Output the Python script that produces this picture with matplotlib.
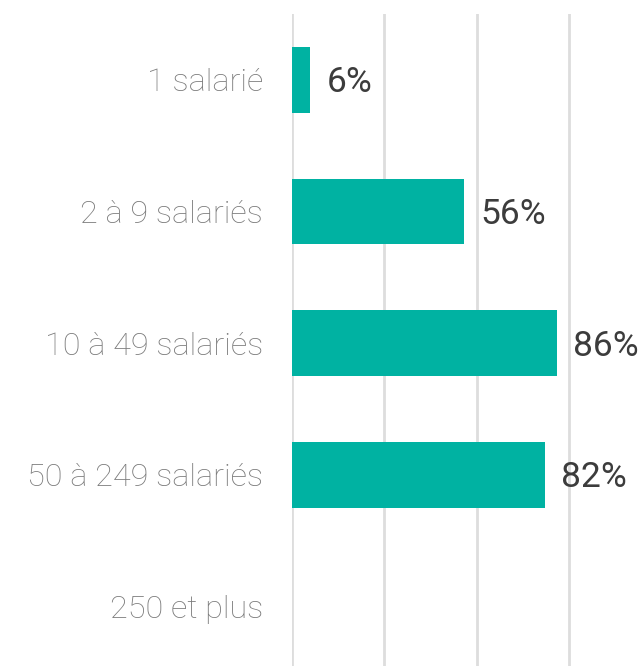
import matplotlib.pyplot as plt

categories = ["1 salarié", "2 à 9 salariés", "10 à 49 salariés", "50 à 249 salariés", "250 et plus"]
values = [6, 56, 86, 82, None]
ticks = [0, 30, 60, 90]

teal = "#00b2a2"

fig = plt.figure(figsize=(6.41, 6.66), dpi=100)
ax = fig.add_axes([292 / 641, 0, 349 / 641, 652 / 666])

ypos = list(range(len(categories)))
for y, v in zip(ypos, values):
    if v is None:
        continue
    ax.barh(y, v, height=0.5, color=teal, zorder=2)
    ax.annotate(f"{v}%", (v, y), xytext=(16, -3), textcoords="offset pixels",
                va="center", ha="left", fontsize=25.5, color="#3c3c3c",
                family="Roboto")

ax.set_xlim(0, 349 / 3.08)
ax.set_ylim(-0.5 + 652 / 131.7, -0.5)
ax.set_xticks(ticks)
ax.set_xticklabels([])
ax.set_yticks(ypos)
ax.set_yticklabels(categories, fontsize=23.3, color="#7a7a7a",
                   family="Roboto", fontweight="light")
ax.tick_params(axis="y", length=0, pad=21)
ax.tick_params(axis="x", length=0)
ax.grid(axis="x", color="#dddddd", linewidth=2, zorder=0)
ax.set_axisbelow(True)
for s in ax.spines.values():
    s.set_visible(False)

fig.savefig("out.png", dpi=100)
